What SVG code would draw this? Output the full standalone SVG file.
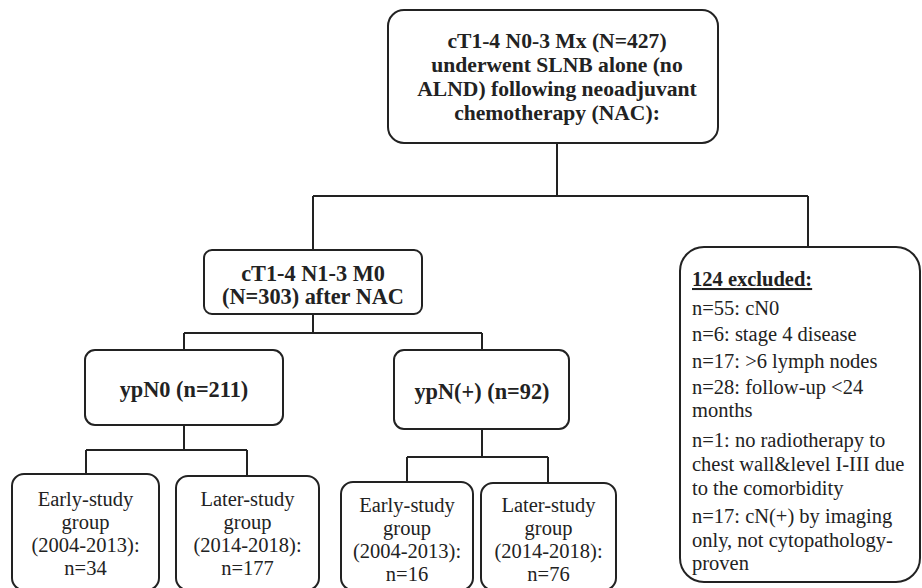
<svg xmlns="http://www.w3.org/2000/svg" width="922" height="588" viewBox="0 0 922 588">
<style>
.box{fill:#fff;stroke:#222;stroke-width:2}
.con{fill:none;stroke:#222;stroke-width:2}
text{font-family:'Liberation Serif','Times New Roman',Times,'DejaVu Serif',serif;fill:#222}
.b{font-weight:bold;font-size:22.3px;text-anchor:middle}
.t{font-weight:bold;font-size:21.6px;text-anchor:middle}
.r{font-size:20.5px;text-anchor:middle}
.l{font-size:20.5px}
.h{font-weight:bold;font-size:20.5px;text-decoration:underline}
</style>
<rect width="922" height="588" fill="#fff"/>
<g id="connectors">
<path class="con" d="M557,143 V196 M313,196 H808 M313,196 V250 M808,196 V247"/>
<path class="con" d="M313,314 V333 M184,333 H482 M184,333 V350 M482,333 V350"/>
<path class="con" d="M184,425 V450 M86,450 H247 M86,450 V474 M247,450 V476"/>
<path class="con" d="M482,429 V457 M407,457 H548 M407,457 V482 M548,457 V483"/>
</g>
<g id="n_top">
<rect class="box" x="388" y="10" width="330" height="133" rx="16"/>
<text class="t"><tspan x="557" y="47.5">cT1-4 N0-3 Mx (N=427)</tspan><tspan x="557" y="71.5">underwent SLNB alone (no</tspan><tspan x="557" y="95.5">ALND) following neoadjuvant</tspan><tspan x="557" y="119.5">chemotherapy (NAC):</tspan></text>
</g>
<g id="n_mid">
<rect class="box" x="204" y="250" width="218" height="64" rx="8"/>
<text class="b"><tspan x="313" y="281">cT1-4 N1-3 M0</tspan><tspan x="313" y="304">(N=303) after NAC</tspan></text>
</g>
<g id="n_excl">
<rect class="box" x="680" y="247" width="240" height="335" rx="24"/>
<text class="h" x="692" y="286">124 excluded:</text>
<text class="l" x="692" y="315">n=55: cN0</text>
<text class="l" x="692" y="341">n=6: stage 4 disease</text>
<text class="l" x="692" y="368">n=17: &gt;6 lymph nodes</text>
<text class="l"><tspan x="692" y="394">n=28: follow-up &lt;24</tspan><tspan x="692" y="417">months</tspan></text>
<text class="l"><tspan x="692" y="447">n=1: no radiotherapy to</tspan><tspan x="692" y="471">chest wall&amp;level I-III due</tspan><tspan x="692" y="495">to the comorbidity</tspan></text>
<text class="l"><tspan x="692" y="523">n=17: cN(+) by imaging</tspan><tspan x="692" y="547">only, not cytopathology-</tspan><tspan x="692" y="570">proven</tspan></text>
</g>
<g id="n_ypn0">
<rect class="box" x="85" y="350" width="198" height="75" rx="10"/>
<text class="b" x="184" y="397">ypN0 (n=211)</text>
</g>
<g id="n_ypnp">
<rect class="box" x="394" y="350" width="175" height="79" rx="10"/>
<text class="b" x="482" y="399">ypN(+) (n=92)</text>
</g>
<g id="n_early1">
<rect class="box" x="12" y="474" width="147" height="116" rx="12"/>
<text class="r"><tspan x="85.5" y="506">Early-study</tspan><tspan x="85.5" y="529">group</tspan><tspan x="85.5" y="552">(2004-2013):</tspan><tspan x="85.5" y="575">n=34</tspan></text>
</g>
<g id="n_later1">
<rect class="box" x="176" y="476" width="143" height="114" rx="12"/>
<text class="r"><tspan x="247.5" y="506">Later-study</tspan><tspan x="247.5" y="529">group</tspan><tspan x="247.5" y="552">(2014-2018):</tspan><tspan x="247.5" y="575">n=177</tspan></text>
</g>
<g id="n_early2">
<rect class="box" x="341" y="482" width="132" height="108" rx="12"/>
<text class="r"><tspan x="407" y="512">Early-study</tspan><tspan x="407" y="535">group</tspan><tspan x="407" y="558">(2004-2013):</tspan><tspan x="407" y="581">n=16</tspan></text>
</g>
<g id="n_later2">
<rect class="box" x="481" y="483" width="135" height="107" rx="12"/>
<text class="r"><tspan x="548.5" y="512">Later-study</tspan><tspan x="548.5" y="535">group</tspan><tspan x="548.5" y="558">(2014-2018):</tspan><tspan x="548.5" y="581">n=76</tspan></text>
</g>
</svg>
